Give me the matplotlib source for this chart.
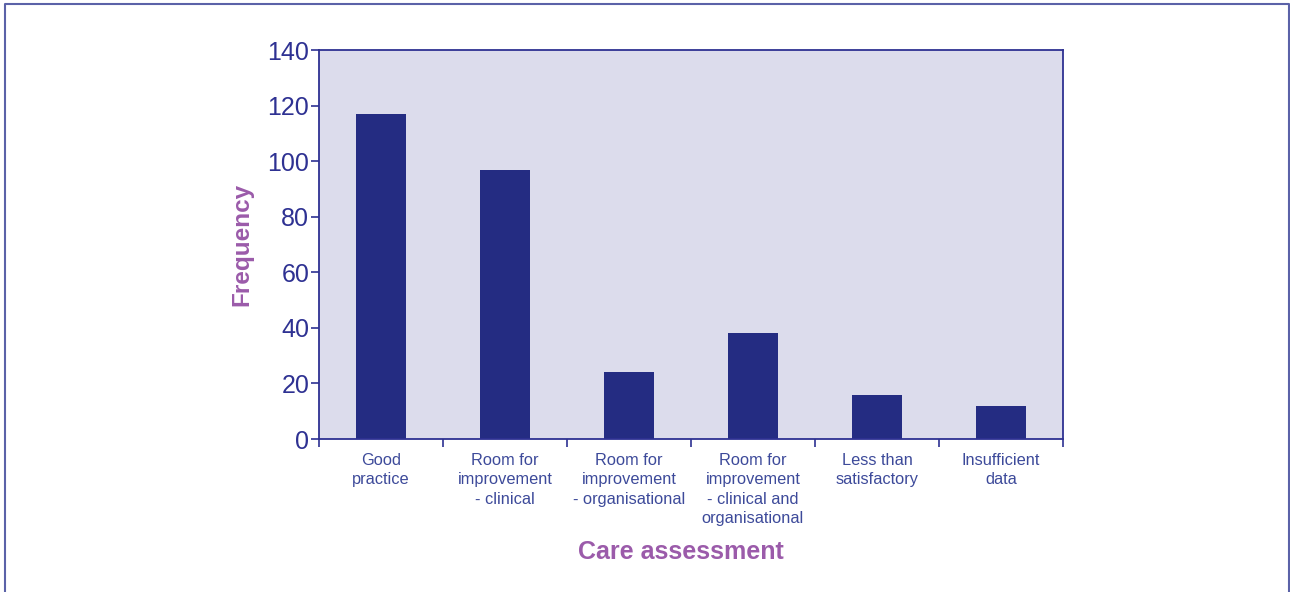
import numpy as np
import matplotlib.pyplot as plt
from matplotlib.lines import Line2D

plt.rcParams['font.family'] = ['Liberation Sans', 'DejaVu Sans']

# Care assessment categories and counts
categories = ["Good\npractice",
              "Room for\nimprovement\n- clinical",
              "Room for\nimprovement\n- organisational",
              "Room for\nimprovement\n- clinical and\norganisational",
              "Less than\nsatisfactory",
              "Insufficient\ndata"]
frequency = [117, 97, 24, 38, 16, 12]

navy = "#242C82"
text_blue = "#2E3192"
label_blue = "#3D4A9A"
purple = "#9B5BAA"
panel = "#DCDCEC"

fig = plt.figure(figsize=(12.9, 5.92), dpi=100)
ax = fig.add_axes([0.2473, 0.2584, 0.5767, 0.6571])
ax.set_facecolor(panel)

x = np.arange(len(categories))
ax.bar(x, frequency, width=0.4, color=navy, zorder=2)

ax.set_xlim(-0.5, len(categories) - 0.5)
ax.set_ylim(0, 140)
ax.set_yticks(np.arange(0, 141, 20))
ax.tick_params(axis='y', colors=text_blue, labelsize=18, length=6, width=1.2, pad=1)

# category names centred under bars, tick marks on the boundaries
ax.set_xticks(x)
ax.set_xticklabels(categories, fontsize=11.8, color=label_blue, linespacing=1.37)
ax.tick_params(axis='x', which='major', length=0, pad=10)
ax.set_xticks(np.arange(-0.5, len(categories)), minor=True)
ax.tick_params(axis='x', which='minor', length=6, width=1.2, color=text_blue)

for s in ax.spines.values():
    s.set_color(text_blue)
    s.set_linewidth(1.3)

ax.set_ylabel("Frequency", fontsize=17.5, fontweight='bold', color=purple)
ax.yaxis.set_label_coords(-0.088, 0.5)
ax.set_xlabel("Care assessment", fontsize=18, fontweight='bold', color=purple)
ax.xaxis.set_label_coords(0.487, -0.26)

# outer frame (top, left and right edges)
frame_x = [4.5 / 1290, 4.5 / 1290, 1288.5 / 1290, 1288.5 / 1290]
frame_y = [0, 1 - 3.5 / 592, 1 - 3.5 / 592, 0]
fig.add_artist(Line2D(frame_x, frame_y, transform=fig.transFigure,
                      color="#5B62A8", linewidth=1.5))

fig.savefig("out.png", dpi=100)
